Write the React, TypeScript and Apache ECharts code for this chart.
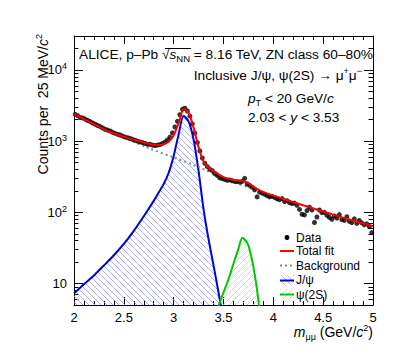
import React, { useEffect, useRef } from "react";
import * as echarts from "echarts";

// ---------- data ----------
// measured dimuon counts per 25 MeV bin: [bin centre (GeV/c^2), counts]
const dataPoints: [number, number][] = [
  [2.0125, 2380], [2.0375, 2280], [2.0625, 2150], [2.0875, 2120], [2.1125, 2040],
  [2.1375, 1950], [2.1625, 1880], [2.1875, 1800], [2.2125, 1730], [2.2375, 1660],
  [2.2625, 1600], [2.2875, 1530], [2.3125, 1470], [2.3375, 1430], [2.3625, 1390],
  [2.3875, 1330], [2.4125, 1290], [2.4375, 1250], [2.4625, 1220], [2.4875, 1180],
  [2.5125, 1140], [2.5375, 1120], [2.5625, 1090], [2.5875, 1060], [2.6125, 1030],
  [2.6375, 1000], [2.6625, 975], [2.6875, 955], [2.7125, 930], [2.7375, 900],
  [2.7625, 905], [2.7875, 880], [2.8125, 870], [2.8375, 880], [2.8625, 895],
  [2.8875, 930], [2.9125, 970], [2.9375, 1040], [2.9625, 1140], [2.9875, 1310],
  [3.0125, 1580], [3.0375, 1900], [3.0625, 2350], [3.0875, 2800], [3.1125, 2900],
  [3.1375, 2650], [3.1625, 2250], [3.1875, 1750], [3.2125, 1300], [3.2375, 960],
  [3.2625, 730], [3.2875, 580], [3.3125, 490], [3.3375, 440], [3.3625, 405],
  [3.3875, 385], [3.4125, 350], [3.4375, 330], [3.4625, 305], [3.4875, 298],
  [3.5125, 290], [3.5375, 282], [3.5625, 286], [3.5875, 278], [3.6125, 272],
  [3.6375, 270], [3.6625, 266], [3.6875, 272], [3.7125, 300], [3.7375, 250],
  [3.7625, 240], [3.7875, 226], [3.8125, 208], [3.8375, 165], [3.8625, 192],
  [3.8875, 186], [3.9125, 180], [3.9375, 172], [3.9625, 165], [3.9875, 168],
  [4.0125, 162], [4.0375, 155], [4.0625, 151], [4.0875, 156], [4.1125, 142],
  [4.1375, 146], [4.1625, 137], [4.1875, 133], [4.2125, 135], [4.2375, 126],
  [4.2625, 110], [4.2875, 94], [4.3125, 92], [4.3375, 106], [4.3625, 118],
  [4.3875, 108], [4.4125, 72], [4.4375, 86], [4.4625, 108], [4.4875, 99],
  [4.5125, 100], [4.5375, 91], [4.5625, 85], [4.5875, 80], [4.6125, 89],
  [4.6375, 83], [4.6625, 93], [4.6875, 79], [4.7125, 77], [4.7375, 87],
  [4.7625, 75], [4.7875, 72], [4.8125, 81], [4.8375, 70], [4.8625, 77],
  [4.8875, 71], [4.9125, 67], [4.9375, 69], [4.9625, 63], [4.9875, 52],
];

const totalFit: [number, number][] = [
  [2.0, 2410], [2.1, 2040], [2.2, 1730], [2.3, 1480], [2.4, 1290], [2.5, 1160],
  [2.6, 1045], [2.7, 960], [2.8, 890], [2.85, 885], [2.9, 910], [2.95, 985],
  [3.0, 1210], [3.05, 1810], [3.1, 2830], [3.15, 2500], [3.2, 1550], [3.25, 820],
  [3.3, 520], [3.35, 425], [3.4, 383], [3.5, 312], [3.6, 285], [3.65, 280],
  [3.7, 274], [3.75, 258], [3.8, 230], [3.9, 192], [4.0, 172], [4.25, 132],
  [4.5, 103], [4.75, 80], [5.0, 64],
];

const background: [number, number][] = [
  [2.0, 2400], [2.25, 1600], [2.5, 1130], [2.75, 800], [3.0, 590], [3.25, 435],
  [3.5, 300], [3.75, 225], [4.0, 172], [4.25, 132], [4.5, 103], [4.75, 80], [5.0, 64],
];

const jpsiSignal: [number, number][] = [
  [2.0, 7.3], [2.1, 9.8], [2.2, 13], [2.3, 18], [2.4, 25], [2.5, 36], [2.6, 55],
  [2.7, 88], [2.8, 145], [2.85, 190], [2.9, 250], [2.95, 360], [3.0, 620],
  [3.05, 1250], [3.1, 2250], [3.15, 1900], [3.2, 1050], [3.25, 380], [3.3, 110],
  [3.35, 42], [3.4, 18], [3.45, 7.5], [3.5, 3],
];

const psi2sSignal: [number, number][] = [
  [3.44, 4.5], [3.5, 7.5], [3.55, 11.5], [3.6, 19], [3.65, 31], [3.69, 44],
  [3.74, 37], [3.77, 27], [3.8, 17], [3.83, 9.5], [3.86, 4.5],
];

const xMin = 2, xMax = 5, xStep = 0.5;
const yMin = 5, yMax = 30000;
const yDecades = [10, 100, 1000, 10000];
const yMinor = [
  5, 6, 7, 8, 9, 20, 30, 40, 50, 60, 70, 80, 90, 200, 300, 400, 500, 600, 700, 800, 900,
  2000, 3000, 4000, 5000, 6000, 7000, 8000, 9000, 20000, 30000,
];

const FONT = "'Liberation Sans', Arial, Helvetica, sans-serif";
const RED = "#ff0000";
const BLUE = "#0000dd";
const GREEN = "#00c800";
const GRAY = "#8c8c8c";
const HEAD = 13.7;

function hatch(color: string, back: boolean) {
  const s = 6;
  const c = document.createElement("canvas");
  c.width = s;
  c.height = s;
  const ctx = c.getContext("2d")!;
  ctx.strokeStyle = color;
  ctx.lineWidth = 0.8;
  ctx.beginPath();
  if (back) {
    ctx.moveTo(-1, -1); ctx.lineTo(s + 1, s + 1);
    ctx.moveTo(-1, s - 1); ctx.lineTo(1, s + 1);
    ctx.moveTo(s - 1, -1); ctx.lineTo(s + 1, 1);
  } else {
    ctx.moveTo(-1, s + 1); ctx.lineTo(s + 1, -1);
    ctx.moveTo(-1, 1); ctx.lineTo(1, -1);
    ctx.moveTo(s - 1, s + 1); ctx.lineTo(s + 1, s - 1);
  }
  ctx.stroke();
  return { image: c, repeat: "repeat", imageWidth: s, imageHeight: s } as any;
}

export default function App() {
  const ref = useRef<HTMLDivElement>(null);
  useEffect(() => {
    if (!ref.current) return;
    const chart = echarts.init(ref.current, null, { renderer: "svg" });
    const blueHatch = hatch("#9c9ce8", true);
    const greenHatch = hatch("#9ee29e", false);

    const sup = { fontSize: 9, lineHeight: 9, verticalAlign: "top", fontFamily: FONT, color: "#000" };
    const sub = { fontSize: 9, lineHeight: 9, verticalAlign: "bottom", fontFamily: FONT, color: "#000" };

    const xCommon = {
      type: "value", min: xMin, max: xMax, interval: xStep,
      axisLine: { show: true, onZero: false, lineStyle: { color: "#000", width: 1 } },
      axisTick: { show: true, inside: true, length: 8, lineStyle: { color: "#000" } },
      minorTick: { show: true, splitNumber: 5, length: 4, lineStyle: { color: "#000" } },
      splitLine: { show: false },
    };
    const yMajor = (pos: string, labels: boolean) => ({
      type: "log", min: yMin, max: yMax, position: pos,
      axisLine: { show: true, lineStyle: { color: "#000", width: 1 } },
      axisTick: { show: true, inside: true, length: 9, customValues: yDecades, lineStyle: { color: "#000" } },
      axisLabel: labels
        ? {
            show: true, customValues: yDecades, margin: 7, fontSize: 13, color: "#000", fontFamily: FONT,
            formatter: (v: number) => {
              const e = Math.round(Math.log10(v));
              return e === 1 ? "{b|10}" : "{b|10}{s|" + e + "}";
            },
            rich: {
              b: { fontSize: 13, lineHeight: 16, fontFamily: FONT, color: "#000" },
              s: { fontSize: 9, lineHeight: 9, verticalAlign: "top", fontFamily: FONT, color: "#000" },
            },
          }
        : { show: false },
      splitLine: { show: false },
    });
    const yMinorAxis = (pos: string) => ({
      type: "log", min: yMin, max: yMax, position: pos,
      axisLine: { show: false },
      axisTick: { show: true, inside: true, length: 4.5, customValues: yMinor, lineStyle: { color: "#000" } },
      axisLabel: { show: false },
      splitLine: { show: false },
    });

    const option: any = {
      animation: false,
      grid: { left: 74, right: 42, top: 36, bottom: 55 },
      xAxis: [
        {
          ...xCommon, position: "bottom",
          axisLabel: { show: true, margin: 6, fontSize: 13, color: "#000", fontFamily: FONT, formatter: (v: number) => String(v) },
        },
        { ...xCommon, position: "top", axisLabel: { show: false } },
      ],
      yAxis: [yMajor("left", true), yMinorAxis("left"), yMajor("right", false), yMinorAxis("right")],
      series: [
        {
          name: "J/ψ", type: "line", data: jpsiSignal, smooth: 0.3, showSymbol: false, symbol: "none",
          lineStyle: { color: BLUE, width: 2 }, itemStyle: { color: BLUE },
          areaStyle: { color: blueHatch, origin: "start", opacity: 1 }, z: 2,
        },
        {
          name: "ψ(2S)", type: "line", data: psi2sSignal, smooth: 0.3, showSymbol: false, symbol: "none",
          lineStyle: { color: GREEN, width: 2 }, itemStyle: { color: GREEN },
          areaStyle: { color: greenHatch, origin: "start", opacity: 1 }, z: 2,
        },
        {
          name: "Background", type: "line", data: background, smooth: 0.3, showSymbol: false, symbol: "none",
          lineStyle: { color: GRAY, width: 2, type: [2, 3] }, z: 3,
        },
        {
          name: "Data", type: "scatter", data: dataPoints, symbol: "circle", symbolSize: 5,
          itemStyle: { color: "#000" }, z: 4,
        },
        {
          name: "Total fit", type: "line", data: totalFit, smooth: 0.25, showSymbol: false, symbol: "none",
          lineStyle: { color: RED, width: 2 }, z: 5,
        },
      ],
      graphic: [
        {
          type: "text", x: 79, y: 54, z: 10,
          style: {
            text: "ALICE, p–Pb {r|√}{i|s}{sub|NN} = 8.16 TeV, ZN class 60–80%",
            font: `${HEAD}px ${FONT}`, fill: "#000", verticalAlign: "middle", align: "left",
            lineHeight: 18,
            rich: {
              r: { fontSize: HEAD, fontFamily: FONT },
              i: { fontSize: HEAD, fontStyle: "italic", fontFamily: FONT },
              sub: { ...sub, fontSize: 9.5 },
            },
          },
        },
        { type: "line", z: 10, shape: { x1: 165, y1: 48.5, x2: 191, y2: 48.5 }, style: { stroke: "#000", lineWidth: 1 } },
        {
          type: "text", x: 362, y: 75, z: 10,
          style: {
            text: "Inclusive J/ψ, ψ(2S) → μ{sup|+}μ{sup|−}",
            font: `${HEAD}px ${FONT}`, fill: "#000", verticalAlign: "middle", align: "right", lineHeight: 18,
            rich: { sup },
          },
        },
        {
          type: "text", x: 248, y: 98, z: 10,
          style: {
            text: "{i|p}{sub|T} < 20 GeV/{i|c}",
            font: `${HEAD}px ${FONT}`, fill: "#000", verticalAlign: "middle", align: "left", lineHeight: 18,
            rich: { i: { fontSize: HEAD, fontStyle: "italic", fontFamily: FONT }, sub },
          },
        },
        {
          type: "text", x: 248, y: 117, z: 10,
          style: {
            text: "2.03 < {i|y} < 3.53",
            font: `${HEAD}px ${FONT}`, fill: "#000", verticalAlign: "middle", align: "left", lineHeight: 18,
            rich: { i: { fontSize: HEAD, fontStyle: "italic", fontFamily: FONT } },
          },
        },
        {
          type: "text", x: 43, y: 34, rotation: Math.PI / 2, z: 10,
          style: {
            text: "Counts per  25 MeV/{i|c}{sup|2}",
            font: `14px ${FONT}`, fill: "#000", verticalAlign: "middle", align: "right", lineHeight: 18,
            rich: { i: { fontSize: 14, fontStyle: "italic", fontFamily: FONT }, sup },
          },
        },
        {
          type: "text", x: 373, y: 332, z: 10,
          style: {
            text: "{i|m}{sub|μμ} (GeV/{i|c}{sup|2})",
            font: `14px ${FONT}`, fill: "#000", verticalAlign: "middle", align: "right", lineHeight: 18,
            rich: { i: { fontSize: 14, fontStyle: "italic", fontFamily: FONT }, sub, sup },
          },
        },
        // legend
        { type: "circle", z: 10, shape: { cx: 287, cy: 237.5, r: 2.5 }, style: { fill: "#000" } },
        { type: "text", z: 10, x: 296, y: 237.5, style: { text: "Data", font: `12px ${FONT}`, fill: "#000", verticalAlign: "middle" } },
        { type: "line", z: 10, shape: { x1: 280, y1: 251, x2: 294, y2: 251 }, style: { stroke: RED, lineWidth: 2 } },
        { type: "text", z: 10, x: 296, y: 251, style: { text: "Total fit", font: `12px ${FONT}`, fill: "#000", verticalAlign: "middle" } },
        { type: "line", z: 10, shape: { x1: 280, y1: 265.5, x2: 294, y2: 265.5 }, style: { stroke: GRAY, lineWidth: 2, lineDash: [2, 3] } },
        { type: "text", z: 10, x: 296, y: 265.5, style: { text: "Background", font: `12px ${FONT}`, fill: "#000", verticalAlign: "middle" } },
        { type: "rect", z: 10, shape: { x: 280, y: 275, width: 14, height: 11 }, style: { fill: blueHatch } },
        { type: "line", z: 10, shape: { x1: 280, y1: 280.5, x2: 294, y2: 280.5 }, style: { stroke: BLUE, lineWidth: 2 } },
        { type: "text", z: 10, x: 296, y: 280, style: { text: "J/ψ", font: `12px ${FONT}`, fill: "#000", verticalAlign: "middle" } },
        { type: "rect", z: 10, shape: { x: 280, y: 289, width: 14, height: 11 }, style: { fill: greenHatch } },
        { type: "line", z: 10, shape: { x1: 280, y1: 294.5, x2: 294, y2: 294.5 }, style: { stroke: GREEN, lineWidth: 2 } },
        { type: "text", z: 10, x: 296, y: 294.5, style: { text: "ψ(2S)", font: `12px ${FONT}`, fill: "#000", verticalAlign: "middle" } },
      ],
    };
    chart.setOption(option);
    return () => chart.dispose();
  }, []);
  return <div ref={ref} style={{ width: 415, height: 360, position: "absolute", left: 0, top: 0, background: "#fff" }} />;
}
